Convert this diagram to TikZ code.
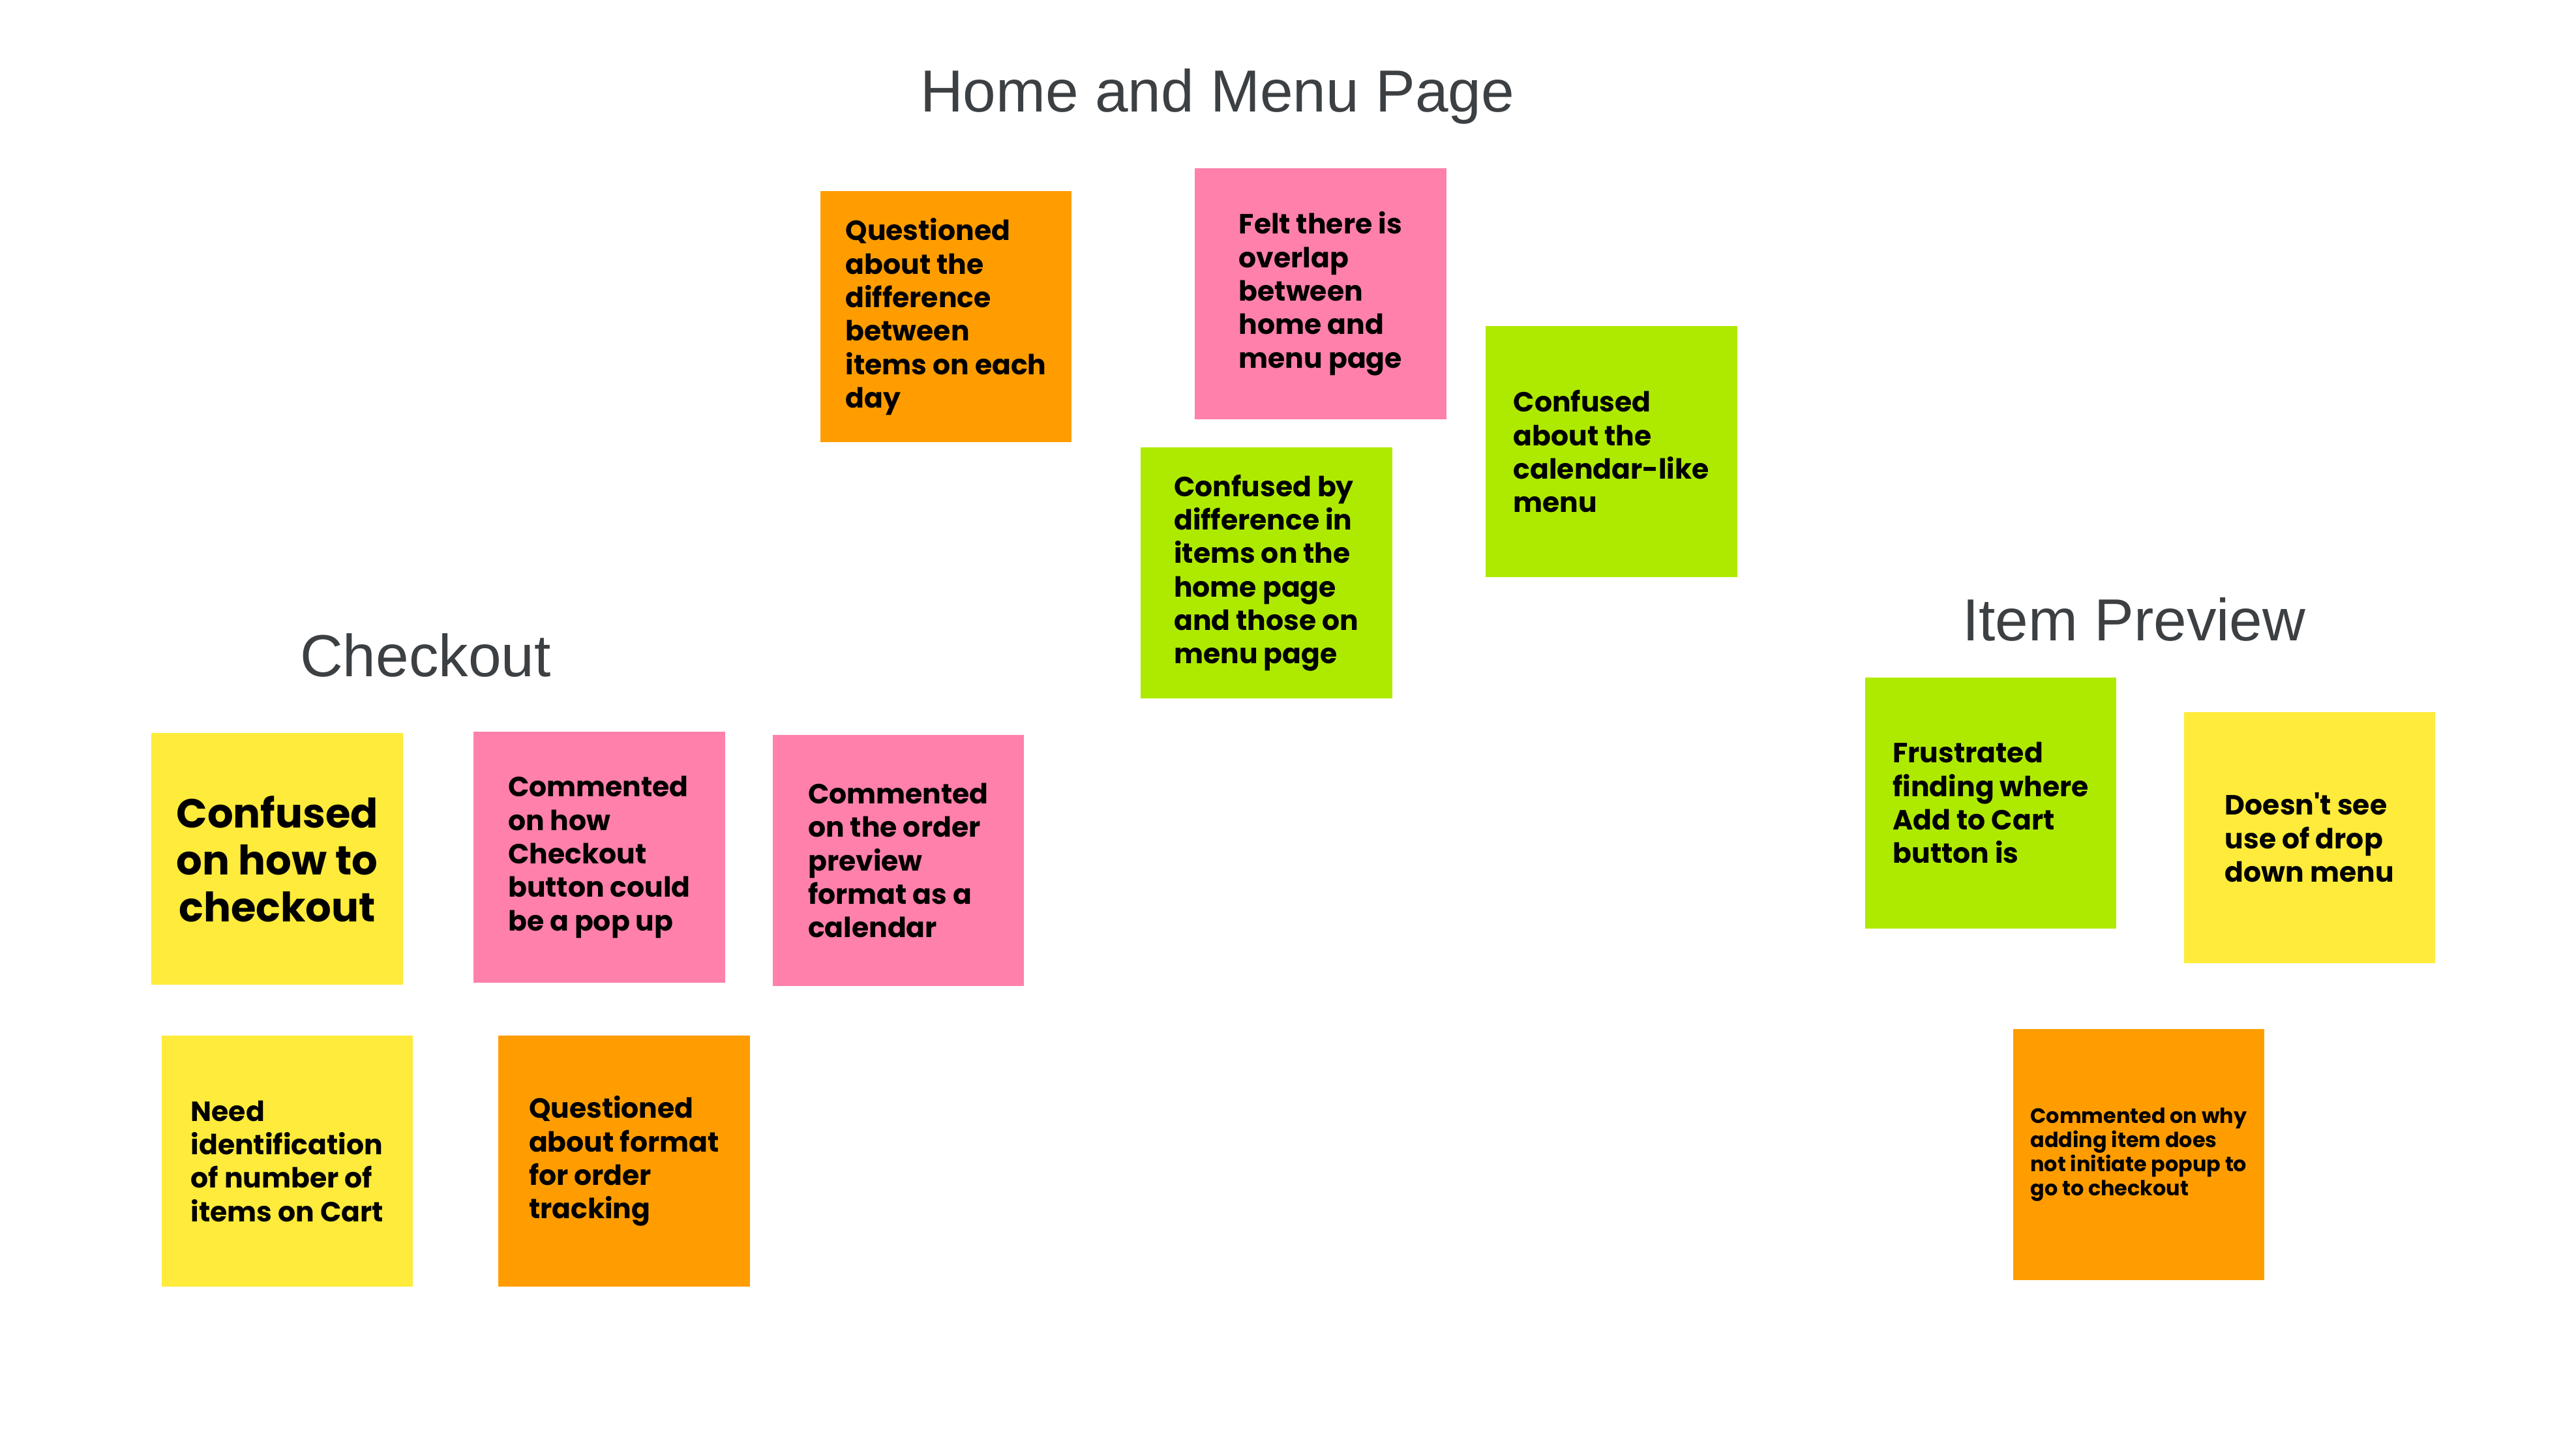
\documentclass[tikz,border=0pt]{standalone}
\usepackage{fontspec}
\setmainfont{Liberation Sans}
\newfontfamily\notefont{Poppins}
\usepackage{xcolor}
\definecolor{noteorange}{RGB}{255,157,0}
\definecolor{notepink}{RGB}{255,128,171}
\definecolor{notegreen}{RGB}{174,234,0}
\definecolor{noteyellow}{RGB}{255,235,59}
\definecolor{titlegray}{RGB}{60,64,67}

\begin{document}
\begin{tikzpicture}[x=0.025cm, y=-0.025cm,
        note/.style={minimum width=3.825cm, minimum height=3.825cm, inner sep=0pt, anchor=north west, align=left,
            font=\notefont\bfseries\fontsize{12}{14.5}\selectfont},
        heading/.style={anchor=base, text=titlegray, font=\fontsize{25.7}{30}\selectfont}]
        \useasboundingbox (0,0) rectangle (1568,882);

        % Home and Menu Page
        \node[heading] (home) at (741,68) {Home and Menu Page};
        \node[note, fill=noteorange] (hq) at (499,116)
            {Questioned\\about the\\difference\\between\\items on each\\day};
        \node[note, fill=notepink] (hp) at (727,102)
            {Felt there is\\overlap\\between\\home and\\menu page};
        \node[note, fill=notegreen] (hc) at (904,198)
            {Confused\\about the\\calendar-like\\menu};
        \node[note, fill=notegreen] (hd) at (694,272)
            {Confused by\\difference in\\items on the\\home page\\and those on\\menu page};

        % Checkout
        \node[heading] (check) at (259,412) {Checkout};
        \node[note, fill=noteyellow, align=center, font=\notefont\bfseries\fontsize{17.6}{20.3}\selectfont] (ca) at (92,446)
            {Confused\\on how to\\checkout};
        \node[note, fill=notepink] (cb) at (288,445)
            {Commented\\on how\\Checkout\\button could\\be a pop up};
        \node[note, fill=notepink] (cc) at (470,447)
            {Commented\\on the order\\preview\\format as a\\calendar};
        \node[note, fill=noteyellow] (cd) at (98,630)
            {Need\\identification\\of number of\\items on Cart};
        \node[note, fill=noteorange] (ce) at (303,630)
            {Questioned\\about format\\for order\\tracking};

        % Item Preview
        \node[heading] (item) at (1299,390) {Item Preview};
        \node[note, fill=notegreen] (ia) at (1135,412)
            {Frustrated\\finding where\\Add to Cart\\button is};
        \node[note, fill=noteyellow] (ib) at (1329,433)
            {Doesn't see\\use of drop\\down menu};
        \node[note, fill=noteorange, font=\notefont\bfseries\fontsize{9}{10.4}\selectfont] (ic) at (1225,626)
            {Commented on why\\adding item does\\not initiate popup to\\go to checkout};
    \end{tikzpicture}
\end{document}
